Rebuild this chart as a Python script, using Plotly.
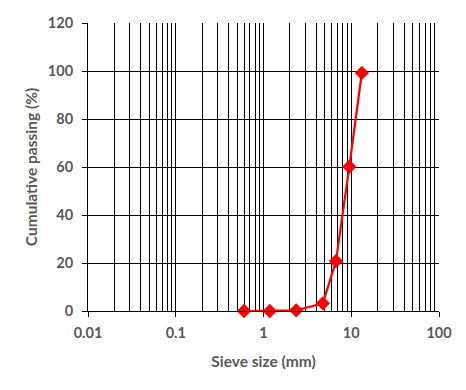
import plotly.graph_objects as go

sieve_size_mm = [0.6, 1.18, 2.36, 4.75, 6.7, 9.5, 13.2]
cumulative_passing = [0, 0, 0.3, 3.2, 20.8, 60.1, 99.2]
x_tick_vals = [0.01, 0.1, 1, 10, 100]
x_tick_text = ["0.01", "0.1", "1", "10", "100"]
y_tick_vals = [0, 20, 40, 60, 80, 100, 120]

font_gray = "#595959"

fig = go.Figure()
fig.add_trace(go.Scatter(
    x=sieve_size_mm, y=cumulative_passing, mode="lines+markers",
    line=dict(color="#FF0000", width=2.25),
    marker=dict(symbol="diamond", size=11, color="#FF0000"),
    showlegend=False, cliponaxis=False,
))

# page body has an 8px default margin, so the figure is sized/offset to compensate
fig.update_layout(
    width=458, height=382,
    margin=dict(l=80, r=27, t=15, b=79),
    paper_bgcolor="white", plot_bgcolor="white",
    font=dict(family="Lato", color=font_gray),
    xaxis=dict(
        type="log", range=[-2, 2],
        tickvals=x_tick_vals, ticktext=x_tick_text,
        tickfont=dict(family="Lato", size=14.5, color=font_gray, weight="bold"),
        ticks="outside", ticklen=5, tickcolor="black", tickwidth=1,
        showgrid=True, gridcolor="black", gridwidth=1,
        minor=dict(dtick="D1", showgrid=True, gridcolor="black", gridwidth=1, ticks=""),
        showline=True, linecolor="black", linewidth=1,
        zeroline=False, mirror=False,
        title=dict(text="Sieve size (mm)", font=dict(family="Lato", size=15.5, color=font_gray, weight="bold"), standoff=15),
        automargin=False, ticklabelstandoff=4,
    ),
    yaxis=dict(
        range=[0, 120], tickvals=y_tick_vals,
        tickfont=dict(family="Lato", size=14.5, color=font_gray, weight="bold"),
        ticks="outside", ticklen=5, tickcolor="black", tickwidth=1,
        showgrid=True, gridcolor="black", gridwidth=1,
        showline=True, linecolor="black", linewidth=1,
        zeroline=False,
        title=dict(text="Cumulative passing (%)", font=dict(family="Lato", size=15.5, color=font_gray, weight="bold"), standoff=6),
        automargin=False, ticklabelstandoff=6,
    ),
)

fig.write_html("out.html")
